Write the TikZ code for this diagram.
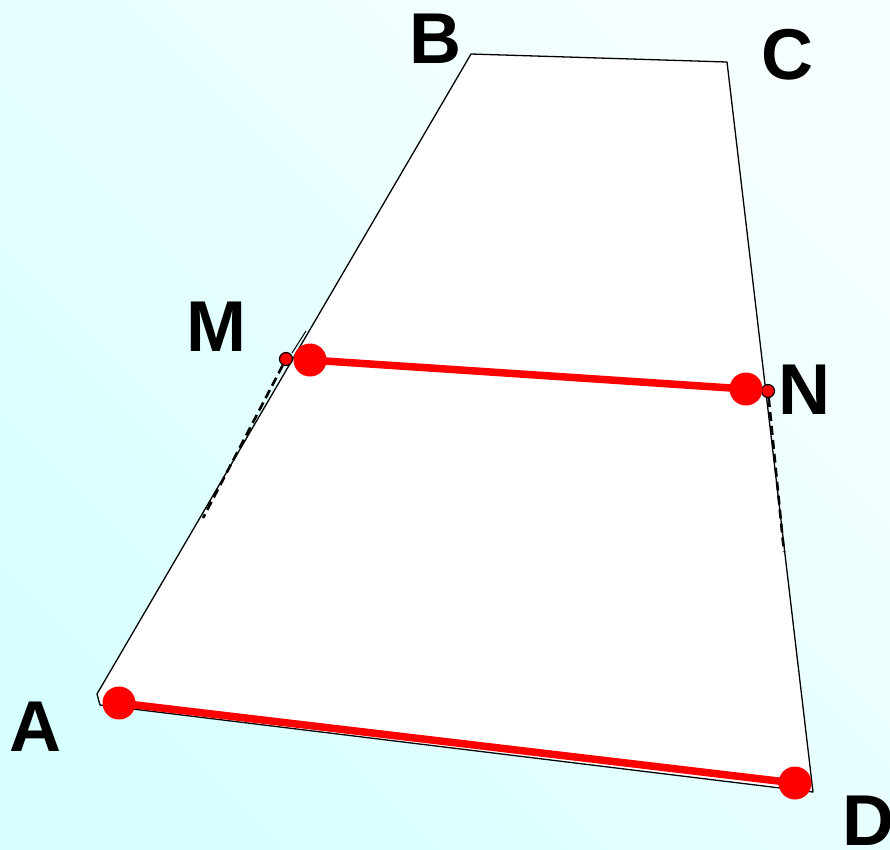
\documentclass[tikz,border=0pt]{standalone}
\usepackage{fontspec}
\setmainfont{Liberation Sans}
\begin{document}
\begin{tikzpicture}[x=1pt,y=-1pt,
  lbl/.style={anchor=base,inner sep=0pt,font=\fontsize{72}{72}\selectfont\bfseries},
  edge/.style={black,line width=1.3pt,line join=round},
  seg/.style={red,line width=7.5pt},
  bigdot/.style={circle,fill=red,minimum size=33pt,inner sep=0pt},
  smalldot/.style={circle,fill=red,draw=black,line width=1.2pt,minimum size=13pt,inner sep=0pt},
  dashline/.style={black,line width=2.6pt,dash pattern=on 9pt off 5pt}]
\definecolor{bgcyan}{RGB}{216,255,255}
\definecolor{bgwhite}{RGB}{246,255,255}
\useasboundingbox (0,0) rectangle (890,849);
\shade[bottom color=bgcyan,top color=bgwhite,shading angle=-45] (0,0) rectangle (890,849);
% quadrilateral
\coordinate (A0) at (100,705);
\coordinate (A1) at (97,694);
\coordinate (B) at (471,54);
\coordinate (C) at (727,62);
\coordinate (D) at (813,792);
\fill[white] (A0) -- (A1) -- (B) -- (C) -- (D) -- cycle;
\draw[edge] (A0) -- (A1) -- (B) -- (C) -- (D) -- cycle;
% dashed overlays
\coordinate (Mend) at (203,518);
\coordinate (Nend) at (784,552);
\coordinate (Mt1) at (292,353);
\coordinate (Mt2) at (306,331);
\node[smalldot] (Ms) at (286,359) {};
\node[smalldot] (Ns) at (768,391) {};
\draw[dashline] (Ms) -- (Mend);
\draw[dashline] (Ns) -- (Nend);
\draw[black,line width=1pt] (Mt1) -- (Mt2);
% red dots
\node[bigdot] (Ad) at (119,703) {};
\node[bigdot] (Dd) at (795,783) {};
\node[bigdot] (Md) at (310,360) {};
\node[bigdot] (Nd) at (746,389) {};
\draw[seg] (Ad.center) -- (Dd.center);
\draw[seg] (Md.center) -- (Nd.center);
% labels
\node[lbl] (lB) at (435,63) {B};
\node[lbl] (lC) at (787,79) {C};
\node[lbl] (lM) at (216,351) {M};
\node[lbl] (lN) at (804,414) {N};
\node[lbl] (lA) at (35,751) {A};
\node[lbl] (lD) at (868,845) {D};
\end{tikzpicture}
\end{document}
